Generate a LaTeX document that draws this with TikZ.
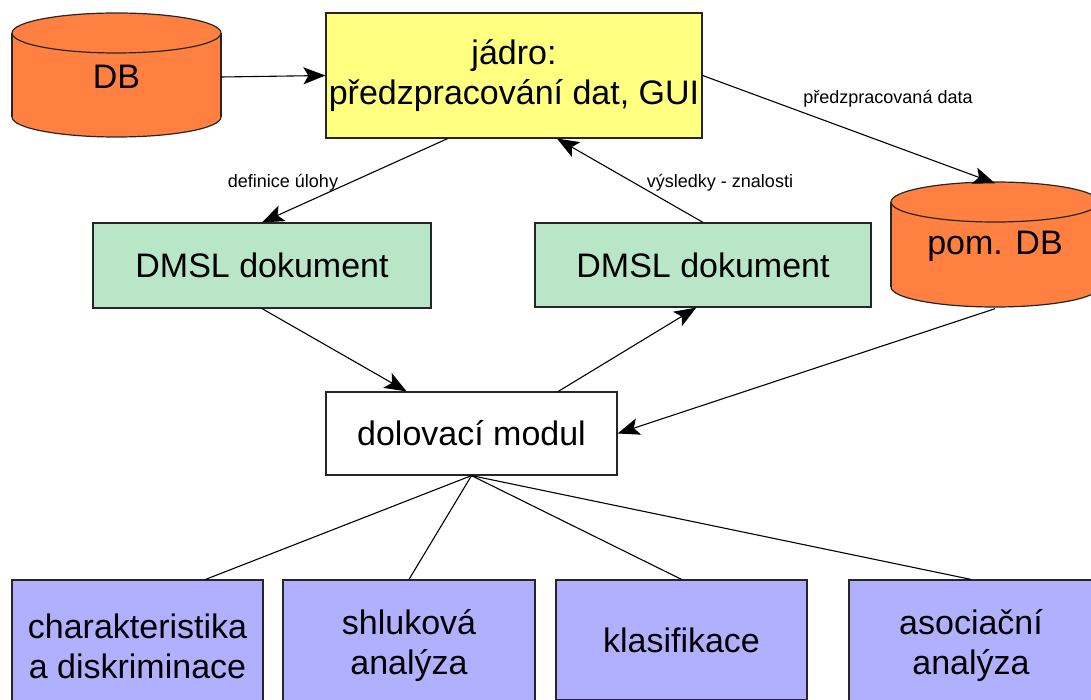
\documentclass[tikz,border=0pt]{standalone}
\usepackage{fontspec}
\setmainfont{Liberation Sans}
\usetikzlibrary{arrows.meta,calc}

\definecolor{dborange}{RGB}{255,128,64}
\definecolor{coreyellow}{RGB}{255,255,128}
\definecolor{docgreen}{RGB}{185,230,198}
\definecolor{methblue}{RGB}{176,176,255}

\newcommand\bigtxt{\fontsize{34}{40}\selectfont}
\newcommand\smalltxt{\fontsize{18}{21}\selectfont}

\tikzset{
  box/.style={draw=black!85, line width=1.2pt, inner sep=0pt, font=\bigtxt, align=center},
  dbnode/.style={inner sep=0pt, font=\bigtxt},
  cylfill/.style={fill=dborange},
  cyledge/.style={draw=black!85, line width=1.2pt},
  conn/.style={line width=1.1pt, -{Stealth[length=22pt,width=17pt,inset=5pt]}},
  link/.style={line width=1.1pt},
  lbl/.style={font=\smalltxt, inner sep=1pt}
}

\begin{document}
\begin{tikzpicture}[x=1pt,y=-1pt]
  \useasboundingbox (0,0) rectangle (1091,700);
  \clip (0,0) rectangle (1091,700);

  % database cylinder "DB"
  \filldraw[cylfill, cyledge] (116.5,117) ellipse [x radius=104.5pt, y radius=20pt];
  \fill[cylfill] (12,33) rectangle (221,117);
  \draw[cyledge] (12,33) -- (12,117) (221,33) -- (221,117);
  \filldraw[cylfill, cyledge] (116.5,33) ellipse [x radius=104.5pt, y radius=20pt];
  \node[dbnode, minimum width=209pt, minimum height=124pt] (db) at (116.5,77) {DB};

  % auxiliary database cylinder "pom. DB"
  \filldraw[cylfill, cyledge] (995,287) ellipse [x radius=104pt, y radius=20pt];
  \fill[cylfill] (891,202) rectangle (1099,287);
  \draw[cyledge] (891,202) -- (891,287) (1099,202) -- (1099,287);
  \filldraw[cylfill, cyledge] (995,202) ellipse [x radius=104pt, y radius=20pt];
  \node[dbnode, minimum width=208pt, minimum height=125pt] (pomdb) at (995,246) {pom. DB};

  % core
  \node[box, fill=coreyellow, minimum width=376pt, minimum height=125pt] (jadro) at (514,75.5)
    {jádro:\\předzpracování dat, GUI};

  % DMSL documents
  \node[box, fill=docgreen, minimum width=338pt, minimum height=85pt] (d1) at (262,265.5) {DMSL dokument};
  \node[box, fill=docgreen, minimum width=336pt, minimum height=84pt] (d2) at (703,265) {DMSL dokument};

  % mining module
  \node[box, fill=white, minimum width=291pt, minimum height=83pt] (mod) at (471.5,433.5) {dolovací modul};

  % mining methods (boxes run past the lower edge)
  \node[box, fill=methblue, minimum width=251pt, minimum height=132pt] (c1) at (137.5,646) {charakteristika\\a diskriminace};
  \node[box, fill=methblue, minimum width=252pt, minimum height=132pt] (c2) at (409,646) {shluková\\analýza};
  \node[box, fill=methblue, minimum width=251pt, minimum height=120pt] (c3) at (681.5,640) {klasifikace};
  \node[box, fill=methblue, minimum width=244pt, minimum height=132pt] (c4) at (971,646) {asociační\\analýza};

  % data flow
  \draw[conn] (db.east) -- (jadro.west);
  \draw[conn] (jadro.east) -- (pomdb.north);
  \draw[conn] ($(jadro.south west)!0.324!(jadro.south east)$) -- (d1.north);
  \draw[conn] (d2.north) -- ($(jadro.south west)!0.614!(jadro.south east)$);
  \draw[conn] (d1.south) -- ($(mod.north west)!0.278!(mod.north east)$);
  \draw[conn] ($(mod.north west)!0.797!(mod.north east)$) -- ($(d2.south west)!0.48!(d2.south east)$);
  \draw[conn] (pomdb.south) -- (mod.east);

  % method links
  \draw[link] (mod.south) -- ($(c1.north west)!0.77!(c1.north east)$);
  \draw[link] (mod.south) -- (c2.north);
  \draw[link] (mod.south) -- (c3.north);
  \draw[link] (mod.south) -- (c4.north);

  % flow labels
  \node[lbl] (lpre) at (888,99) {předzpracovaná data};
  \node[lbl] (ldef) at (283,183) {definice úlohy};
  \node[lbl] (lres) at (720,183) {výsledky - znalosti};
\end{tikzpicture}
\end{document}
